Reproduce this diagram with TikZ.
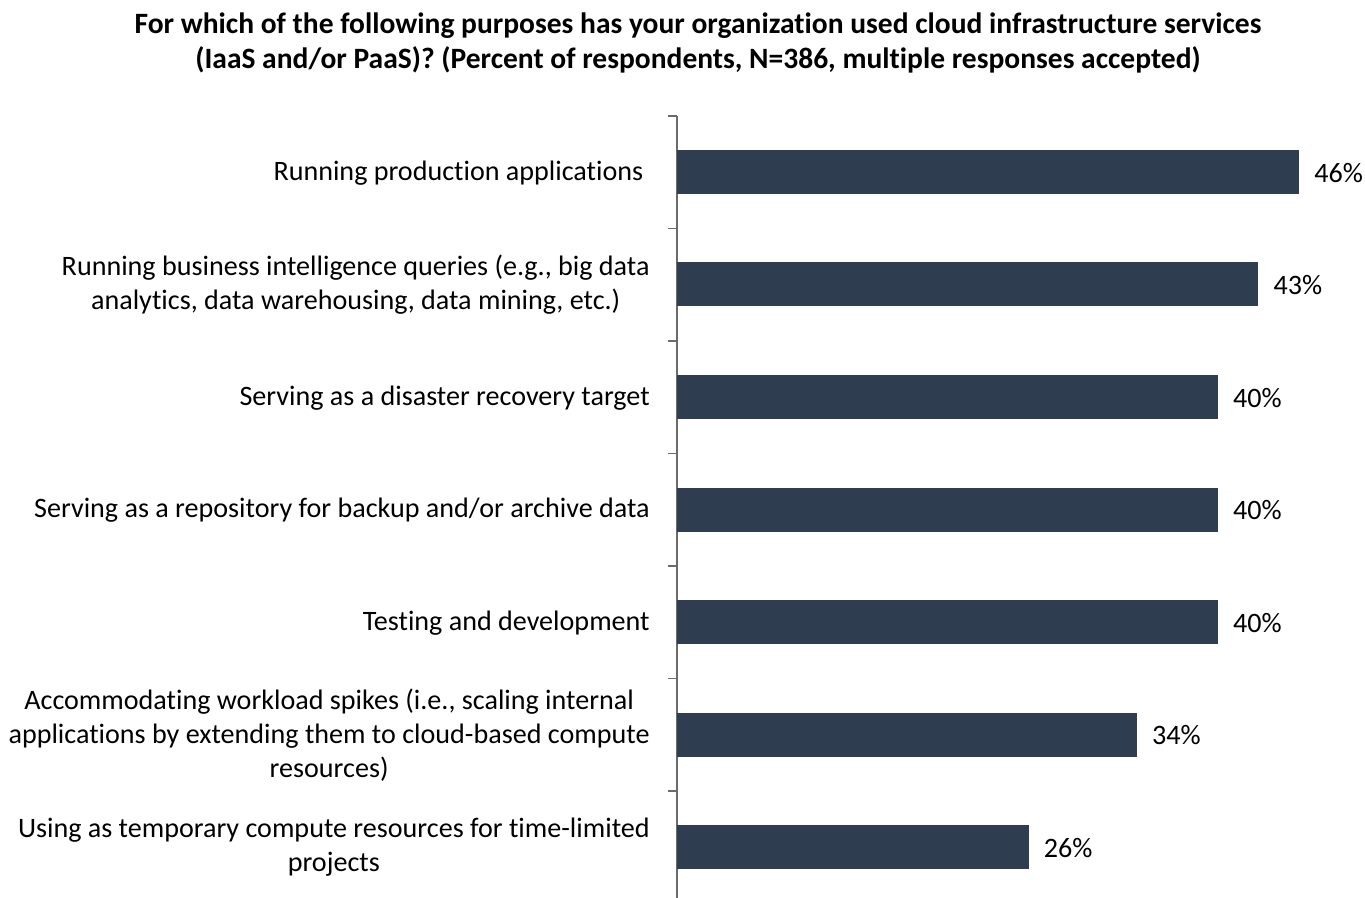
\documentclass[tikz,border=0pt]{standalone}
\usepackage{fontspec}
\setmainfont{Carlito}[RawFeature={-liga}]
\usetikzlibrary{positioning}
\definecolor{barcol}{HTML}{2E3D4F}
\definecolor{axiscol}{HTML}{6B6B6B}
\tikzset{
  cat/.style={anchor=east,align=center,inner sep=0pt,font=\fontsize{16}{19.3}\selectfont},
  val/.style={anchor=west,inner sep=0pt,font=\fontsize{16}{19}\selectfont},
  bar/.style={fill=barcol,draw=none},
  axisline/.style={draw=axiscol,line width=0.7pt},
}

\begin{document}
\begin{tikzpicture}[x=0.02cm,y=-0.02cm]
  \useasboundingbox (0,0) rectangle (1365,898);
  % title
  \node[align=center,font=\bfseries\fontsize{16.8}{20.4}\selectfont] (title) at (698,43)
    {For which of the following purposes has your organization used cloud infrastructure services\\
     (IaaS and/or PaaS)? (Percent of respondents, N=386, multiple responses accepted)};
  % axis with ticks
  \draw[axisline] (677,116) -- (677,898);
  \foreach \k in {0,...,6}
    \draw[axisline] (668,116+112.5*\k) -- (677,116+112.5*\k);
  % bars and values
  \foreach \i/\v in {1/46,2/43,3/40,4/40,5/40,6/34,7/26} {
    \fill[bar] (677,150+112.5*\i-112.5) rectangle (677+13.52*\v,194+112.5*\i-112.5);
    \node[val] (v\i) at (677+13.52*\v+15,173+112.5*\i-112.5) {\v\%};
  }
  % category labels
  \node[cat] (c1) at (650,173) {Running production applications\ };
  \node[cat] (c2) at (650,285) {Running business intelligence queries (e.g., big data\\ analytics, data warehousing, data mining, etc.)};
  \node[cat] (c3) at (650,398) {Serving as a disaster recovery target};
  \node[cat] (c4) at (650,510) {Serving as a repository for backup and/or archive data};
  \node[cat] (c5) at (650,623) {Testing and development};
  \node[cat] (c6) at (650,735) {Accommodating workload spikes (i.e., scaling internal\\ applications by extending them to cloud-based compute\\ resources)};
  \node[cat] (c7) at (650,847) {Using as temporary compute resources for time-limited\\ projects};
\end{tikzpicture}
\end{document}
